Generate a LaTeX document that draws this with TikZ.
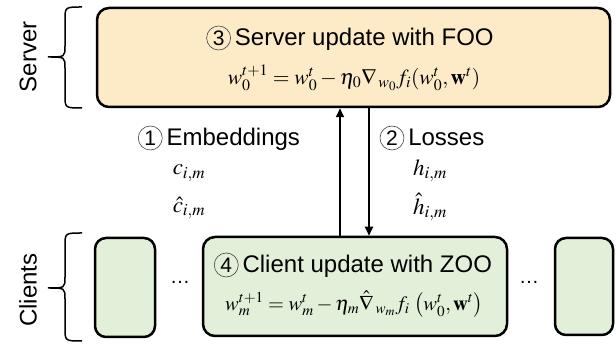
\documentclass[tikz,border=0pt]{standalone}
\usepackage{mathptmx}
\usepackage{fontspec}
\setmainfont{Liberation Sans}
\usetikzlibrary{arrows.meta}
\definecolor{srvfill}{HTML}{FCEBC6}
\definecolor{clifill}{HTML}{E2EFD9}
\newcommand\circnum[1]{\tikz[baseline=(cn.base)]\node[circle, draw=black!75, line width=0.6pt, inner sep=0pt, minimum size=24pt, font=\fontsize{21}{24}\selectfont] (cn) {#1};}
\tikzset{
  box/.style={draw=black, line width=2.5pt, rounded corners=12pt, inner sep=0pt},
  lbl/.style={font=\fontsize{24}{28}\selectfont, inner sep=0pt},
  mth/.style={font=\fontsize{21.5}{24}\selectfont, inner sep=0pt},
  sym/.style={font=\fontsize{23}{26}\selectfont, inner sep=0pt},
  brc/.style={line width=1.5pt},
  arr/.style={line width=2pt, -{Triangle[length=9pt,width=8pt]}},
}
\begin{document}
\begin{tikzpicture}[x=1pt,y=-1pt]
\useasboundingbox (0,0) rectangle (616,344);
% server
\node[box, fill=srvfill, minimum width=513pt, minimum height=99pt] (srv) at (353.5,57.5) {};
\node[lbl] (srvt) at (350,38) {\circnum{3}\,Server update with FOO};
\node[mth] (srvf) at (354,78) {$w_0^{t+1} = w_0^t - \eta_0 \nabla_{\,w_0} f_i(w_0^t,\mathbf{w}^t)$};
% clients
\node[box, fill=clifill, minimum width=60pt, minimum height=99pt, rounded corners=11pt] (cl1) at (125,287.5) {};
\node[box, fill=clifill, minimum width=304pt, minimum height=99pt] (cli) at (355,286.5) {};
\node[box, fill=clifill, minimum width=58pt, minimum height=97pt, rounded corners=11pt] (cl3) at (584,286.5) {};
\node[lbl] (clit) at (353,265) {\circnum{4}\,Client update with ZOO};
\node[mth, font=\fontsize{20.5}{24}\selectfont] (clif) at (354,304) {$w_m^{t+1} = w_m^t - \eta_m \hat{\nabla}_{\,w_m} f_i\,\left(w_0^t,\mathbf{w}^t\right)$};
\node[lbl, font=\fontsize{20}{24}\selectfont] (dl) at (180,282) {\ldots};
\node[lbl, font=\fontsize{20}{24}\selectfont] (dr) at (529,282) {\ldots};
% arrows
\draw[arr] ([xshift=-15pt]cli.north) -- ([xshift=-15pt]cli.north |- srv.south);
\draw[arr] ([xshift=14pt]cli.north |- srv.south) -- ([xshift=14pt]cli.north);
% labels
\node[lbl] (emb) at (219,138) {\circnum{1}\,Embeddings};
\node[sym] (c1) at (189,173) {$c_{i,m}$};
\node[sym] (c2) at (189,208) {$\hat{c}_{i,m}$};
\node[lbl] (los) at (432,138) {\circnum{2}\,Losses};
\node[sym] (h1) at (430,171) {$h_{i,m}$};
\node[sym] (h2) at (430,207) {$\hat{h}_{i,m}$};
% side labels
\node[lbl, rotate=90] (srvl) at (28,57) {Server};
\node[lbl, rotate=90] (clil) at (28,290) {Clients};
% braces
\draw[brc] (82,7) .. controls (65,7) .. (65,20) -- (65,46) .. controls (65,57) .. (48,57)
           .. controls (65,57) .. (65,68) -- (65,95) .. controls (65,108) .. (82,108);
\draw[brc] (82,233) .. controls (65,233) .. (65,246) -- (65,277) .. controls (65,288) .. (48,288)
           .. controls (65,288) .. (65,299) -- (65,328) .. controls (65,341) .. (82,341);
\end{tikzpicture}
\end{document}
